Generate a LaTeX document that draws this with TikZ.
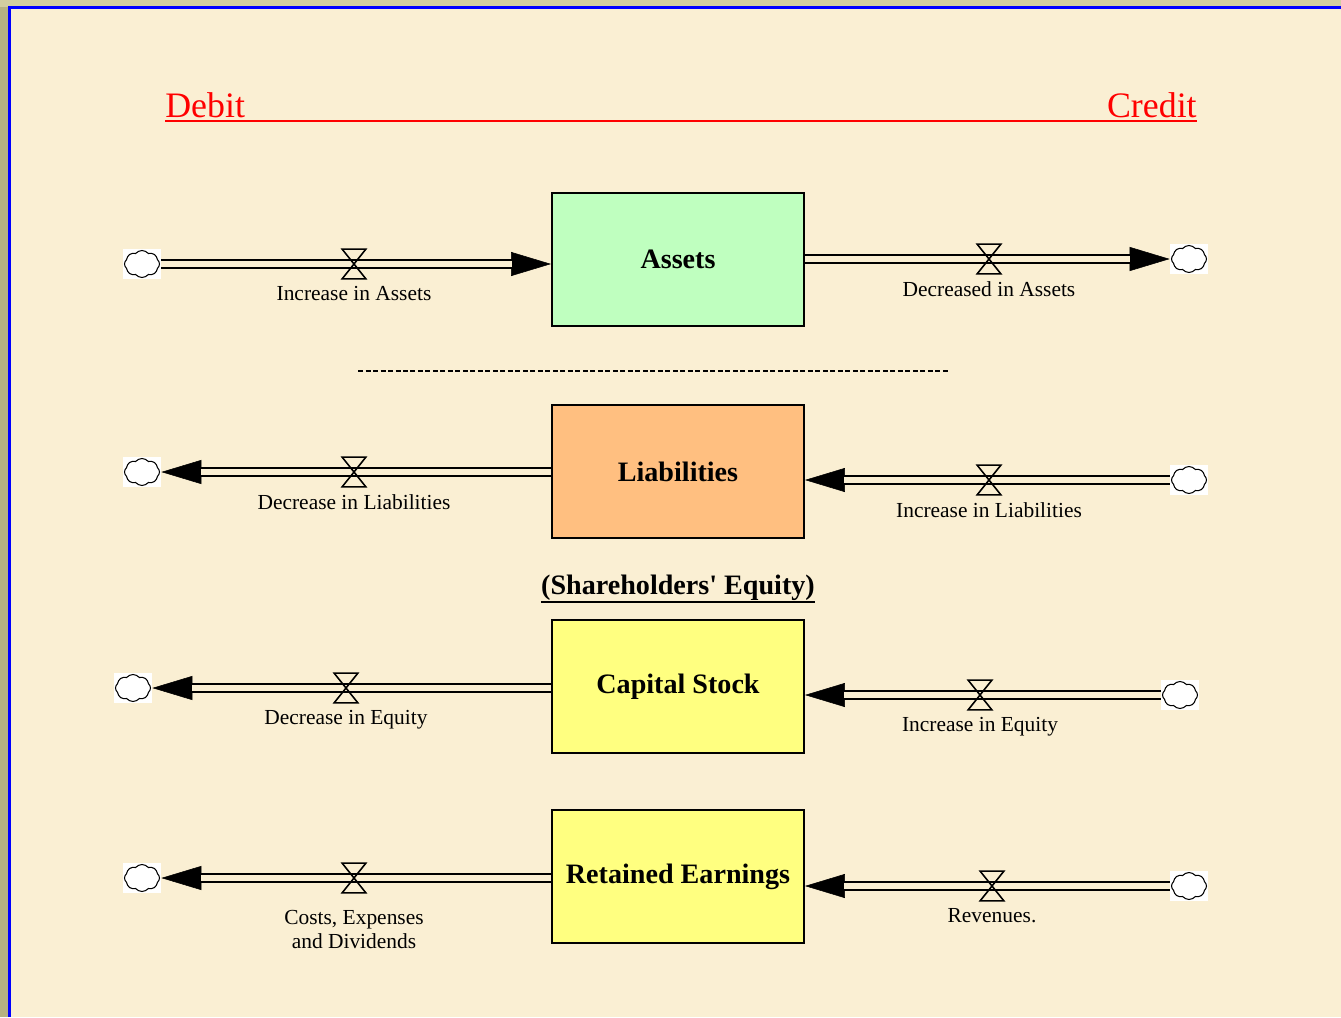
\documentclass[tikz,border=0pt]{standalone}
\usepackage{fontspec}
\setmainfont{Liberation Serif}
\usetikzlibrary{arrows.meta,calc,positioning,shapes.symbols}
\definecolor{parch}{RGB}{250,239,211}
\definecolor{olivetop}{RGB}{210,206,160}
\definecolor{oliveside}{RGB}{182,178,130}
\definecolor{assetc}{RGB}{191,255,191}
\definecolor{liabc}{RGB}{255,191,128}
\definecolor{equityc}{RGB}{255,255,128}

\tikzset{
  stockbox/.style={draw, line width=0.04cm, minimum width=5.04cm, minimum height=2.66cm, inner sep=0pt, font=\fontsize{16}{19}\selectfont\bfseries},
  cloudbox/.style={fill=white, minimum width=0.76cm, minimum height=0.6cm, inner sep=0pt},
  puff/.style={cloud, cloud puffs=8, cloud puff arc=100, draw, line width=0.6pt, fill=white, minimum width=0.7cm, minimum height=0.54cm, inner sep=0pt},
  valve/.style={minimum width=0.46cm, minimum height=0.58cm, inner sep=0pt},
  pipe/.style={line width=1pt, double=parch, double distance=0.12cm, shorten >=0.79cm},
  tipline/.style={line width=0.3pt, -{Triangle[length=0.8cm,width=0.48cm]}},
  flowlab/.style={inner sep=0pt, align=center, font=\fontsize{12.2}{13.6}\selectfont},
}

\begin{document}
\begin{tikzpicture}[x=0.02cm, y=-0.02cm]
  % page and frame
  \useasboundingbox (0,0) rectangle (1341,1017);
  \fill[olivetop] (0,0) rectangle (1341,1017);
  \fill[oliveside] (0,7) rectangle (8,1017);
  \fill[parch] (10,8) rectangle (1341,1017);
  \draw[blue, line width=0.05cm] (9.5,1017) -- (9.5,7.5) -- (1341,7.5);

  % debit / credit header
  \node[anchor=base west, text=red, inner sep=0pt, font=\fontsize{20.4}{24}\selectfont] (debit) at (165,117) {Debit};
  \node[anchor=base east, text=red, inner sep=0pt, font=\fontsize{20.4}{24}\selectfont] (credit) at (1197,117) {Credit};
  \draw[red, line width=0.04cm] ($(debit.base west)+(0,4)$) -- ($(credit.base east)+(0,4)$);

  % stocks
  \node[stockbox, fill=assetc] (assets) at (678,259.5) {Assets};
  \node[stockbox, fill=liabc] (liab) at (678,471.5) {Liabilities};
  \node[stockbox, fill=equityc] (capstock) at (678,686.5) {Capital Stock};
  \node[stockbox, fill=equityc] (retained) at (678,876.5) {Retained Earnings};

  \draw[line width=0.03cm, dash pattern=on 0.1cm off 0.05cm] (358,371) -- (950,371);
  \node[inner sep=0pt, font=\fontsize{16}{19}\selectfont\bfseries] (equity) at (678,588) {(Shareholders\textquotesingle{} Equity)};
  \draw[line width=0.035cm] ([yshift=-0.5pt]equity.south west) -- ([yshift=-0.5pt]equity.south east);

  % sources and sinks
  \foreach \n/\x/\y in {c1/142/264, c2/1189/259, c3/142/472, c4/1189/480,
                        c5/133/688, c6/1180/695, c7/142/878, c8/1189/886} {
    \node[cloudbox] (\n) at (\x,\y) {};
    \node[puff] (\n p) at (\n) {};
  }
  \foreach \n/\x/\y in {v1/354/264, v2/989/259, v3/354/472, v4/989/480,
                        v5/346/688, v6/980/695, v7/354/878, v8/992/886}
    \node[valve] (\n) at (\x,\y) {};

  % flows
  \draw[tipline] (v1.center) -- (assets.west |- v1);
  \draw[pipe] (c1.east) -- (v1.center) -- (assets.west |- v1);
  \draw[tipline] (v2.center) -- (c2.west);
  \draw[pipe] (assets.east |- v2) -- (v2.center) -- (c2.west);
  \draw[tipline] (v3.center) -- (c3.east);
  \draw[pipe] (liab.west |- v3) -- (v3.center) -- (c3.east);
  \draw[tipline] (v4.center) -- (liab.east |- v4);
  \draw[pipe] (c4.west) -- (v4.center) -- (liab.east |- v4);
  \draw[tipline] (v5.center) -- (c5.east);
  \draw[pipe] (capstock.west |- v5) -- (v5.center) -- (c5.east);
  \draw[tipline] (v6.center) -- (capstock.east |- v6);
  \draw[pipe] (c6.west) -- (v6.center) -- (capstock.east |- v6);
  \draw[tipline] (v7.center) -- (c7.east);
  \draw[pipe] (retained.west |- v7) -- (v7.center) -- (c7.east);
  \draw[tipline] (v8.center) -- (retained.east |- v8);
  \draw[pipe] (c8.west) -- (v8.center) -- (retained.east |- v8);

  \foreach \i in {1,...,8}
    \draw[line width=0.9pt] (v\i.north west) -- (v\i.north east) -- (v\i.south west) -- (v\i.south east) -- cycle;

  % flow names
  \node[flowlab, below=0.15cm of v1] (l1) {Increase in Assets};
  \node[flowlab, below=0.15cm of v2] (l2) {Decreased in Assets};
  \node[flowlab, below=0.15cm of v3] (l3) {Decrease in Liabilities};
  \node[flowlab, below=0.15cm of v4] (l4) {Increase in Liabilities};
  \node[flowlab, below=0.15cm of v5] (l5) {Decrease in Equity};
  \node[flowlab, below=0.15cm of v6] (l6) {Increase in Equity};
  \node[flowlab, below=0.34cm of v7] (l7) {Costs, Expenses\\and Dividends};
  \node[flowlab, below=0.15cm of v8] (l8) {Revenues.};
\end{tikzpicture}
\end{document}
